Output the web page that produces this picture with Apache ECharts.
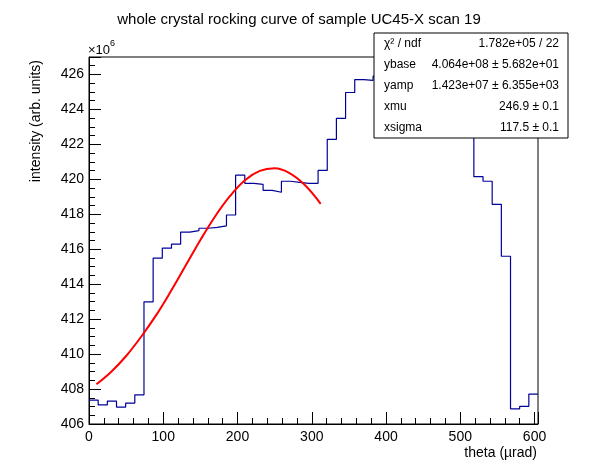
<!DOCTYPE html>
<html>
<head>
<meta charset="utf-8">
<script src="https://cdn.jsdelivr.net/npm/echarts@6/dist/echarts.min.js"></script>
<style>
  html, body { margin: 0; padding: 0; background: #fff; }
  #chart { width: 598px; height: 474px; }
</style>
</head>
<body>
<div id="chart"></div>
<script>
// histogram of the scan: 49 bins starting at theta = 0, content in units of 1e6
var binWidth = 12.34;
var binCounts = [
  407.37, 407.09, 407.31, 406.97, 407.20, 407.67, 412.99, 415.49, 416.06, 416.29,
  416.98, 417.07, 417.20, 417.25, 417.34, 417.96, 420.24, 419.77, 419.71, 419.37,
  419.26, 419.89, 419.83, 419.77, 419.77, 420.51, 422.29, 423.49, 424.97, 425.71,
  425.66, 425.90, 426.20, 426.40, 426.50, 426.40, 426.10, 425.60, 425.00, 424.30,
  423.60, 423.00, 420.15, 419.89, 418.57, 415.60, 406.87, 407.01, 407.71
];

// fitted curve (red)
var fitTheta  = [10, 30, 50, 70, 90, 110, 130, 150, 170, 190, 210, 230, 250, 270, 290, 312];
var fitValues = [408.27, 408.99, 409.89, 410.98, 412.20, 413.58, 415.05, 416.53,
                 417.89, 419.05, 419.95, 420.48, 420.63, 420.36, 419.70, 418.60];

// fit statistics box
var statNames  = ['χ² / ndf', 'ybase', 'yamp', 'xmu', 'xsigma'];
var statValues = ['1.782e+05 / 22', '4.064e+08 ± 5.682e+01', '1.423e+07 ± 6.355e+03',
                  '246.9 ± 0.1', '117.5 ± 0.1'];

var font = '"Liberation Sans", Arial, Helvetica, sans-serif';

var histData = binCounts.map(function (v, i) { return [i * binWidth, v]; });
histData.push([binCounts.length * binWidth, binCounts[binCounts.length - 1]]);

var fitData = fitTheta.map(function (t, i) { return [t, fitValues[i]]; });

var statGraphics = [{
  type: 'rect', z: 100,
  shape: { x: 374, y: 33, width: 194, height: 105 },
  style: { fill: '#fff', stroke: '#000', lineWidth: 1 }
}];
statNames.forEach(function (name, i) {
  var y = 43.5 + 21.1 * i;
  statGraphics.push({
    type: 'text', z: 101, x: 384, y: y,
    style: { text: name, fontSize: 12, fontFamily: font, fill: '#000', align: 'left', verticalAlign: 'middle' }
  });
  statGraphics.push({
    type: 'text', z: 101, x: 559, y: y,
    style: { text: statValues[i], fontSize: 12, fontFamily: font, fill: '#000', align: 'right', verticalAlign: 'middle' }
  });
});

var chart = echarts.init(document.getElementById('chart'));

var option = {
  backgroundColor: '#fff',
  animation: false,
  title: {
    text: 'whole crystal rocking curve of sample UC45-X scan 19',
    left: 'center',
    top: 7,
    textStyle: { fontFamily: font, fontSize: 15, fontWeight: 'normal', color: '#000' }
  },
  grid: {
    left: 89, right: 60, top: 57, bottom: 50,
    show: true, borderColor: '#000', borderWidth: 1, backgroundColor: 'transparent'
  },
  xAxis: {
    type: 'value',
    min: 0,
    max: binCounts.length * binWidth,
    interval: 100,
    axisLine: { show: true, lineStyle: { color: '#000', width: 1 } },
    axisTick: { show: true, inside: true, length: 12, lineStyle: { color: '#000' } },
    minorTick: { show: true, splitNumber: 5, length: 6, lineStyle: { color: '#000' } },
    splitLine: { show: false },
    axisLabel: { color: '#000', fontSize: 14, fontFamily: font, margin: 6, showMaxLabel: false }
  },
  yAxis: {
    type: 'value',
    min: 406,
    max: 427,
    interval: 2,
    axisLine: { show: true, lineStyle: { color: '#000', width: 1 } },
    axisTick: { show: true, inside: true, length: 12, lineStyle: { color: '#000' } },
    minorTick: { show: true, splitNumber: 4, length: 6, lineStyle: { color: '#000' } },
    splitLine: { show: false },
    axisLabel: { color: '#000', fontSize: 14, fontFamily: font, margin: 5, showMaxLabel: false }
  },
  series: [
    {
      name: 'scan',
      type: 'line',
      step: 'end',
      symbol: 'none',
      data: histData,
      lineStyle: { color: '#000099', width: 1.2 },
      z: 2
    },
    {
      name: 'fit',
      type: 'line',
      smooth: 0.4,
      symbol: 'none',
      data: fitData,
      lineStyle: { color: '#ff0000', width: 2 },
      z: 3
    }
  ],
  graphic: [
    {
      type: 'text', z: 101, x: 36, y: 60, rotation: Math.PI / 2,
      style: { text: 'intensity (arb. units)', fontSize: 14, fontFamily: font, fill: '#000', align: 'right', verticalAlign: 'middle' }
    },
    {
      type: 'text', z: 101, x: 537, y: 453,
      style: { text: 'theta (µrad)', fontSize: 14, fontFamily: font, fill: '#000', align: 'right', verticalAlign: 'middle' }
    },
    {
      type: 'text', z: 101, x: 88, y: 50,
      style: { text: '×10', fontSize: 13, fontFamily: font, fill: '#000', align: 'left', verticalAlign: 'middle' }
    },
    {
      type: 'text', z: 101, x: 110, y: 44,
      style: { text: '6', fontSize: 9, fontFamily: font, fill: '#000', align: 'left', verticalAlign: 'middle' }
    }
  ].concat(statGraphics)
};

chart.setOption(option);
</script>
</body>
</html>
